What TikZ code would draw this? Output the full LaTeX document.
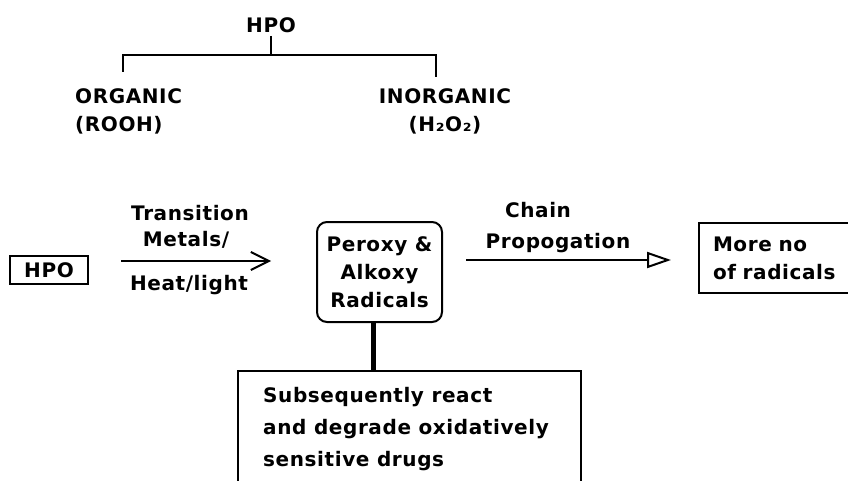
\documentclass[tikz,border=0pt]{standalone}
\usepackage{fontspec}
\setmainfont{DejaVu Sans}[LetterSpace=3]
\usetikzlibrary{arrows.meta,calc}
\begin{document}
\begin{tikzpicture}[x=1pt,y=1pt,
  txt/.style={font=\fontsize{20}{28}\selectfont\bfseries, inner sep=0pt},
  box/.style={draw, line width=2pt},
  ln/.style={line width=2pt},
  barb/.style={-{Straight Barb[length=18pt,width=18pt,line width=2pt]}},
  tri/.style={-{Triangle[open,length=24pt,width=16pt,line width=2pt]}}]
\useasboundingbox (0,0) rectangle (848,-481);
\fill[white] (0,0) rectangle (848,-481);

% top tree
\node[txt] (top) at (271,-25) {HPO};
\node[txt, anchor=west, align=left] (org) at (75,-111) {ORGANIC\\(ROOH)};
\node[txt, align=center] (inorg) at (445,-111) {INORGANIC\\(H₂O₂)};
\coordinate (bj) at (271,-55);
\coordinate (bl) at (123,-72);
\coordinate (br) at (436,-77);
\draw[ln, shorten <=3pt] (top.south) -- (bj);
\draw[ln] (bl) -- (bl |- bj) -- (br |- bj) -- (br);

% bottom flow
\node[box, txt, minimum width=78, minimum height=28] (hpo) at (49,-270) {HPO};
\node[draw, line width=2pt, rounded corners=10pt, txt, align=center,
      minimum width=125, minimum height=100] (perox) at (379.5,-272)
      {Peroxy \&\\Alkoxy\\Radicals};
\node[box, txt, align=left, anchor=west, text width=136, inner xsep=7,
      minimum height=70] (more) at (698,-258)
      {\hspace*{7pt}More no\\\hspace*{7pt}of radicals};
\node[box, anchor=north west, minimum width=343, minimum height=140] (sub) at (237,-370) {};
\node[txt, anchor=north west, align=left, font=\fontsize{20}{32}\selectfont\bfseries]
      (subtxt) at (263,-387) {Subsequently react\\and degrade oxidatively\\sensitive drugs};

\draw[ln, barb, shorten <=32pt, shorten >=45pt] ([yshift=9]hpo.east) -- ([yshift=9]hpo.east -| perox.west);
\node[txt] (l1) at (190,-213) {Transition};
\node[txt] (l2) at (186,-240) {Metals/};
\node[txt] (l3) at (189,-285) {Heat/light};

\draw[ln, tri, shorten <=23pt, shorten >=27pt] ([yshift=12]perox.east) -- ([yshift=12]perox.east -| more.west);
\node[txt] (l4) at (538,-210) {Chain};
\node[txt] (l5) at (558,-243) {Propogation};

\draw[line width=5pt] ([xshift=-6]perox.south) -- ([xshift=-6]perox.south |- sub.north);
\end{tikzpicture}
\end{document}
